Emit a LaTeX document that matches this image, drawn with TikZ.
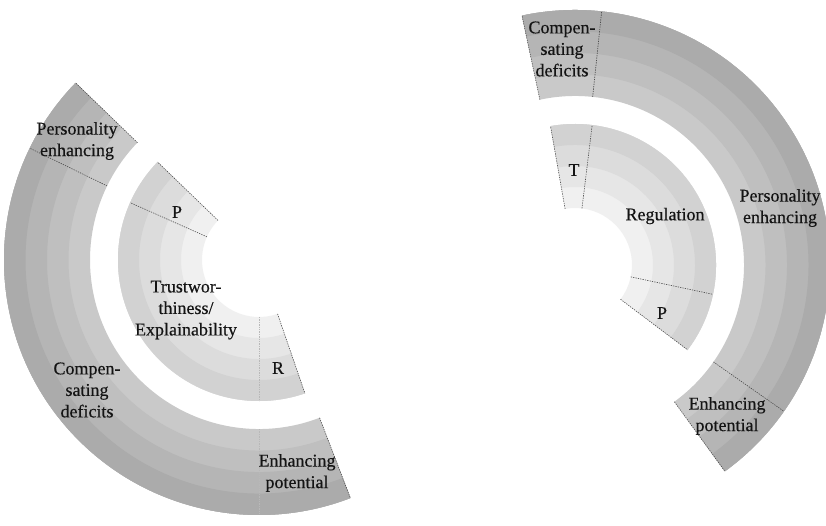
\documentclass[tikz,border=0pt]{standalone}
\usepackage{fontspec}
\setmainfont{Liberation Serif}
\newfontfamily\lblfont{Liberation Serif}[FakeBold=0.35]
\definecolor{bandin0}{RGB}{240,240,240}
\definecolor{bandin1}{RGB}{230,230,230}
\definecolor{bandin2}{RGB}{220,220,220}
\definecolor{bandin3}{RGB}{210,210,210}
\definecolor{bandout0}{RGB}{201,201,201}
\definecolor{bandout1}{RGB}{191,191,191}
\definecolor{bandout2}{RGB}{181,181,181}
\definecolor{bandout3}{RGB}{171,171,171}
\tikzset{
  lbl/.style={font=\lblfont\fontsize{18}{21.5}\selectfont, align=center, text=black!92, inner sep=0pt},
  divline/.style={draw=black!70, line width=0.6pt, dash pattern=on 1.3pt off 1.1pt},
  lightdiv/.style={draw=black!28, line width=0.6pt, dash pattern=on 1.3pt off 1.1pt},
}
% #1 center, #2 start angle, #3 end angle, #4 inner r, #5 outer r, #6 colour set (in/out)
\newcommand{\fourbands}[6]{%
  \foreach \k in {0,1,2,3}{%
    \pgfmathsetmacro{\rA}{#4+(#5-#4)*\k/4}%
    \fill[band#6\k] ([shift={(#2:#5pt)}]#1) arc[start angle=#2,end angle=#3,radius=#5pt]
      -- ([shift={(#3:\rA pt)}]#1) arc[start angle=#3,end angle=#2,radius=\rA pt] -- cycle;
  }}
% #1 style, #2 center, #3 angle, #4 inner r, #5 outer r
\newcommand{\radline}[5]{%
  \draw[#1] ([shift={(#3:#4pt)}]#2) -- ([shift={(#3:#5pt)}]#2);}
\begin{document}
\begin{tikzpicture}[x=1pt,y=1pt]
\clip (0,0) rectangle (826,525);
\fill[white] (0,0) rectangle (826,525);
\coordinate (L) at (259,265);
\coordinate (R) at (575,260);

% ---------- left diagram ----------
\fourbands{L}{136}{291}{169}{255}{out}
\fourbands{L}{136}{289}{57}{141}{in}
\radline{divline}{L}{136}{169}{255}
\radline{divline}{L}{154}{169}{255}
\radline{lightdiv}{L}{270}{169}{255}
\radline{divline}{L}{291}{169}{255}
\radline{divline}{L}{136}{57}{141}
\radline{divline}{L}{156}{57}{141}
\radline{lightdiv}{L}{270}{57}{141}
\radline{divline}{L}{289}{57}{141}

\node[lbl] (pe1) at (77,384) {Personality\\enhancing};
\node[lbl] (p1) at (177,313) {P};
\node[lbl] (te) at (186,215) {Trustwor-\\thiness/\\Explainability};
\node[lbl] (r1) at (278,157) {R};
\node[lbl] (cd1) at (87,135) {Compen-\\sating\\deficits};
\node[lbl] (ep1) at (297,52) {Enhancing\\potential};

% ---------- right diagram ----------
\fourbands{R}{-54}{102}{169}{255}{out}
\fourbands{R}{-37}{100}{57}{141}{in}
\radline{divline}{R}{102}{169}{255}
\radline{divline}{R}{84}{169}{255}
\radline{divline}{R}{-35}{169}{255}
\radline{divline}{R}{-54}{169}{255}
\radline{divline}{R}{100}{57}{141}
\radline{divline}{R}{83}{57}{141}
\radline{divline}{R}{-12}{57}{141}
\radline{divline}{R}{-37}{57}{141}

\node[lbl] (cd2) at (562,476) {Compen-\\sating\\deficits};
\node[lbl] (t2) at (574,355) {T};
\node[lbl] (reg) at (665,309) {Regulation};
\node[lbl] (pe2) at (780,317) {Personality\\enhancing};
\node[lbl] (p2) at (662,212) {P};
\node[lbl] (ep2) at (727,109) {Enhancing\\potential};
\end{tikzpicture}
\end{document}
